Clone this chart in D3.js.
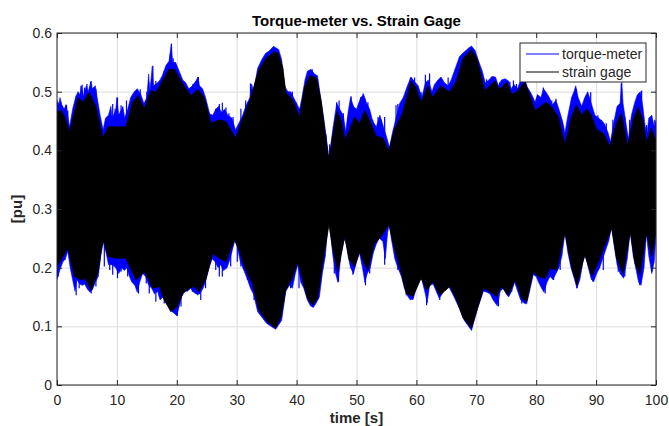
<!DOCTYPE html>
<html>
<head>
<meta charset="UTF-8">
<title>Torque-meter vs. Strain Gage</title>
<script src="https://d3js.org/d3.v7.min.js"></script>
<style>
body { margin: 0; background: #fff; }
text { font-family: "Liberation Sans", Arial, sans-serif; fill: #262626; }
</style>
</head>
<body>
<script>

const xTicks = [0, 10, 20, 30, 40, 50, 60, 70, 80, 90, 100];
const yTicks = [0, 0.1, 0.2, 0.3, 0.4, 0.5, 0.6];
const seriesNames = ["torque-meter", "strain gage"];

// envelopes of the two signals, [time s, value pu]
const torqueTop = [[0,0.485],[0.3,0.475],[0.5,0.49],[0.8,0.478],[1.2,0.47],[1.5,0.478],[2.1,0.44],[2.6,0.47],[3.1,0.49],[3.5,0.5],[3.8,0.495],[4.2,0.512],[4.4,0.492],[4.9,0.51],[5.2,0.5],[5.7,0.518],[5.9,0.505],[6.4,0.51],[6.7,0.49],[7.2,0.46],[7.7,0.435],[8.1,0.455],[8.6,0.46],[9.0,0.475],[9.2,0.455],[9.8,0.468],[10.0,0.49],[10.3,0.46],[11.0,0.475],[11.3,0.455],[11.8,0.47],[12.3,0.49],[12.9,0.5],[13.4,0.505],[14.0,0.495],[14.5,0.48],[15.0,0.49],[15.3,0.53],[15.5,0.5],[15.9,0.543],[16.1,0.51],[16.8,0.515],[17.2,0.52],[17.6,0.528],[18.2,0.545],[18.7,0.552],[19.1,0.582],[19.3,0.55],[19.8,0.55],[20.4,0.535],[21.0,0.52],[21.5,0.515],[22.0,0.505],[22.6,0.51],[23.3,0.52],[23.5,0.525],[23.8,0.51],[24.3,0.505],[24.8,0.49],[25.5,0.462],[26.0,0.46],[26.5,0.47],[27.0,0.475],[27.4,0.465],[28.0,0.47],[28.5,0.46],[29.2,0.455],[29.8,0.435],[30.3,0.445],[31.0,0.46],[31.5,0.475],[32.2,0.49],[32.5,0.513],[32.8,0.5],[33.5,0.54],[34.2,0.555],[34.8,0.565],[35.5,0.57],[36.1,0.577],[36.5,0.575],[37.0,0.572],[37.5,0.555],[38.0,0.51],[38.5,0.5],[39.0,0.5],[39.5,0.49],[40.0,0.48],[40.5,0.47],[40.9,0.49],[41.4,0.52],[41.8,0.535],[42.4,0.538],[43.0,0.53],[43.5,0.527],[44.0,0.49],[44.6,0.45],[45.1,0.41],[45.4,0.38],[45.7,0.41],[46.1,0.44],[46.7,0.48],[47.2,0.47],[47.8,0.46],[48.2,0.432],[48.6,0.465],[49.0,0.49],[49.5,0.475],[50.0,0.47],[50.7,0.49],[51.2,0.495],[51.7,0.48],[52.2,0.47],[52.7,0.45],[53.3,0.44],[53.9,0.46],[54.5,0.44],[55.1,0.42],[55.5,0.405],[56.0,0.43],[56.6,0.455],[57.2,0.48],[57.8,0.49],[58.5,0.51],[59.1,0.525],[59.6,0.518],[60.3,0.51],[60.9,0.49],[61.5,0.515],[62.0,0.52],[62.6,0.5],[63.0,0.512],[63.6,0.52],[64.1,0.525],[64.7,0.515],[65.3,0.51],[65.8,0.52],[66.5,0.54],[67.2,0.56],[67.9,0.567],[68.6,0.573],[69.2,0.578],[69.8,0.57],[70.4,0.552],[71.0,0.535],[71.5,0.515],[72.1,0.52],[72.6,0.526],[73.2,0.525],[73.7,0.51],[74.2,0.52],[74.8,0.522],[75.4,0.518],[75.8,0.505],[76.3,0.512],[76.9,0.506],[77.4,0.52],[78.0,0.525],[78.5,0.508],[79.0,0.5],[79.5,0.49],[79.8,0.482],[80.2,0.495],[80.8,0.49],[81.2,0.505],[81.6,0.5],[82.2,0.49],[82.7,0.478],[83.3,0.485],[83.8,0.47],[84.4,0.45],[84.8,0.43],[85.3,0.46],[85.9,0.49],[86.3,0.5],[86.6,0.51],[87.0,0.49],[87.6,0.475],[88.1,0.49],[88.6,0.5],[89.2,0.48],[89.8,0.46],[90.4,0.455],[91.0,0.45],[91.4,0.445],[92.0,0.43],[92.4,0.415],[92.9,0.445],[93.5,0.475],[94.0,0.48],[94.3,0.516],[94.5,0.48],[95.0,0.445],[95.4,0.42],[95.9,0.46],[96.4,0.48],[96.9,0.495],[97.4,0.5],[97.8,0.475],[98.2,0.44],[98.5,0.43],[98.8,0.455],[99.3,0.46],[99.7,0.44],[100,0.45]];

const torqueBottom = [[0,0.18],[0.3,0.19],[0.6,0.2],[1.0,0.21],[1.4,0.215],[1.8,0.228],[2.2,0.2],[2.6,0.18],[3.0,0.16],[3.3,0.18],[3.8,0.172],[4.2,0.17],[4.6,0.172],[5.0,0.165],[5.5,0.158],[5.9,0.162],[6.4,0.175],[6.9,0.185],[7.3,0.22],[7.7,0.245],[8.2,0.225],[8.6,0.205],[9.2,0.205],[9.8,0.2],[10.3,0.19],[10.8,0.2],[11.2,0.195],[11.7,0.2],[12.1,0.185],[12.5,0.175],[13.0,0.17],[13.4,0.158],[13.8,0.175],[14.3,0.19],[14.8,0.185],[15.3,0.17],[15.8,0.165],[16.3,0.155],[16.8,0.16],[17.2,0.145],[17.7,0.15],[18.2,0.14],[18.7,0.135],[19.2,0.125],[19.6,0.122],[20.0,0.118],[20.3,0.13],[20.8,0.15],[21.3,0.16],[21.8,0.16],[22.3,0.165],[22.8,0.158],[23.3,0.155],[23.8,0.155],[24.4,0.165],[24.9,0.18],[25.4,0.2],[25.9,0.215],[26.4,0.21],[26.9,0.2],[27.3,0.205],[27.8,0.195],[28.4,0.2],[28.9,0.215],[29.4,0.235],[29.8,0.25],[30.2,0.23],[30.6,0.21],[31.2,0.195],[31.8,0.18],[32.3,0.165],[32.8,0.155],[33.5,0.125],[35.0,0.105],[36.5,0.095],[37.5,0.11],[38.2,0.16],[38.8,0.17],[39.3,0.165],[39.8,0.19],[40.2,0.205],[40.7,0.175],[41.2,0.165],[41.8,0.145],[42.3,0.135],[42.8,0.132],[43.3,0.14],[43.8,0.15],[44.3,0.19],[44.8,0.22],[45.2,0.27],[45.4,0.29],[45.7,0.26],[46.0,0.225],[46.5,0.19],[46.9,0.175],[47.4,0.22],[47.9,0.245],[48.2,0.25],[48.6,0.22],[49.0,0.2],[49.5,0.19],[50.0,0.21],[50.5,0.225],[51.0,0.2],[51.4,0.175],[51.8,0.19],[52.3,0.2],[52.8,0.225],[53.3,0.24],[53.8,0.25],[54.4,0.245],[54.8,0.215],[55.2,0.26],[55.5,0.276],[55.8,0.25],[56.4,0.215],[56.9,0.2],[57.5,0.185],[58.0,0.165],[58.5,0.152],[59.0,0.145],[59.5,0.148],[60.0,0.165],[60.5,0.18],[60.9,0.18],[61.5,0.155],[61.8,0.14],[62.2,0.17],[62.8,0.172],[63.3,0.16],[63.8,0.148],[64.3,0.155],[64.8,0.165],[65.3,0.17],[65.8,0.16],[66.3,0.15],[67.2,0.13],[68.0,0.11],[69.2,0.093],[70.2,0.13],[71.2,0.16],[71.8,0.158],[72.3,0.155],[72.8,0.145],[73.5,0.135],[74.0,0.16],[74.5,0.165],[75.0,0.155],[75.4,0.15],[75.9,0.16],[76.4,0.175],[76.9,0.16],[77.4,0.145],[77.9,0.14],[78.4,0.138],[78.9,0.16],[79.5,0.188],[80.0,0.185],[80.4,0.175],[80.9,0.165],[81.3,0.158],[81.8,0.175],[82.3,0.185],[82.8,0.18],[83.3,0.19],[83.8,0.2],[84.3,0.22],[84.8,0.26],[85.3,0.225],[85.8,0.2],[86.4,0.18],[86.8,0.165],[87.3,0.18],[87.8,0.21],[88.2,0.222],[88.7,0.2],[89.2,0.18],[89.6,0.176],[90.1,0.19],[90.6,0.2],[91.1,0.215],[91.6,0.23],[92.1,0.245],[92.6,0.27],[93.0,0.24],[93.5,0.205],[94.0,0.19],[94.6,0.182],[95.2,0.215],[95.7,0.262],[96.2,0.22],[96.7,0.195],[97.1,0.175],[97.5,0.17],[98.0,0.2],[98.4,0.258],[98.8,0.22],[99.3,0.19],[99.7,0.21],[100,0.255]];

// single needle-like peaks of the torque-meter trace, [time s, value pu]
const torqueSpikesTop = [[0.3,0.482],[0.6,0.483],[1.6,0.477],[1.8,0.468],[3.2,0.493],[4.0,0.51],[4.6,0.507],[5.0,0.513],[5.6,0.517],[6.5,0.504],[7.1,0.457],[8.2,0.454],[8.8,0.463],[9.3,0.479],[9.7,0.471],[10.1,0.49],[10.7,0.477],[11.6,0.485],[12.4,0.482],[13.9,0.504],[15.0,0.5],[15.3,0.516],[16.0,0.544],[16.5,0.518],[17.1,0.516],[17.9,0.535],[18.9,0.563],[19.1,0.581],[19.4,0.557],[20.1,0.535],[22.7,0.513],[23.2,0.518],[23.6,0.525],[24.0,0.507],[25.4,0.463],[26.5,0.471],[27.1,0.479],[27.6,0.481],[28.2,0.473],[28.7,0.463],[29.4,0.457],[30.7,0.471],[31.5,0.485],[32.3,0.514],[36.2,0.577],[38.4,0.502],[39.3,0.5],[39.9,0.482],[41.1,0.49],[42.3,0.536],[42.6,0.538],[44.9,0.427],[45.5,0.41],[45.8,0.391],[46.7,0.482],[47.1,0.485],[47.8,0.463],[48.6,0.457],[49.1,0.492],[49.9,0.468],[50.7,0.49],[51.1,0.497],[51.4,0.488],[51.9,0.482],[52.7,0.452],[53.6,0.457],[54.1,0.452],[54.7,0.457],[56.6,0.477],[56.9,0.479],[58.0,0.49],[59.0,0.524],[59.7,0.524],[60.8,0.499],[61.5,0.529],[62.2,0.531],[63.0,0.499],[64.4,0.514],[65.3,0.524],[65.9,0.516],[68.7,0.575],[71.7,0.521],[72.6,0.519],[73.9,0.516],[75.6,0.517],[76.2,0.519],[76.7,0.513],[79.8,0.477],[80.6,0.49],[81.2,0.507],[81.8,0.488],[82.6,0.485],[83.3,0.488],[84.5,0.441],[86.7,0.504],[87.3,0.479],[88.1,0.468],[89.1,0.499],[90.3,0.46],[90.9,0.452],[91.7,0.446],[92.8,0.452],[93.4,0.46],[94.2,0.514],[94.8,0.457],[95.6,0.452],[96.7,0.479],[97.6,0.502],[98.4,0.443],[99.2,0.457],[99.8,0.452]];

const torqueSpikesBottom = [[0.2,0.185],[1.3,0.213],[3.2,0.153],[3.7,0.165],[4.3,0.17],[5.2,0.162],[5.7,0.156],[6.5,0.168],[7.9,0.202],[8.8,0.196],[9.3,0.188],[10.1,0.182],[10.7,0.193],[11.8,0.185],[12.6,0.176],[13.6,0.156],[14.9,0.173],[15.4,0.156],[16.5,0.142],[17.1,0.151],[17.9,0.139],[20.1,0.118],[20.7,0.134],[22.6,0.159],[23.5,0.153],[24.0,0.145],[24.8,0.165],[26.0,0.23],[26.5,0.196],[27.1,0.185],[27.6,0.185],[29.0,0.202],[29.6,0.25],[30.1,0.21],[30.7,0.202],[31.8,0.179],[32.9,0.145],[38.5,0.17],[39.0,0.165],[40.4,0.165],[43.5,0.145],[45.4,0.293],[46.3,0.19],[47.0,0.176],[48.3,0.256],[49.4,0.188],[50.5,0.23],[51.5,0.17],[52.2,0.19],[53.6,0.256],[54.7,0.205],[55.5,0.277],[56.9,0.196],[58.3,0.153],[59.4,0.145],[60.8,0.186],[61.7,0.136],[62.8,0.176],[63.9,0.145],[65.3,0.17],[73.7,0.134],[74.5,0.165],[75.9,0.159],[77.6,0.139],[79.8,0.19],[81.5,0.156],[82.9,0.179],[84.0,0.196],[84.8,0.261],[86.8,0.165],[88.1,0.222],[89.5,0.176],[91.2,0.196],[92.6,0.27],[93.7,0.193],[94.8,0.185],[95.7,0.264],[97.3,0.17],[98.4,0.259],[99.3,0.193]];

const strainTop = [[0,0.466],[0.7,0.468],[1.3,0.457],[2.1,0.432],[2.7,0.457],[3.5,0.49],[4.3,0.482],[5.4,0.499],[6.5,0.474],[7.7,0.421],[8.5,0.44],[9.9,0.44],[11.5,0.44],[12.6,0.482],[13.5,0.493],[14.6,0.471],[15.7,0.502],[16.5,0.499],[17.6,0.518],[18.7,0.538],[19.6,0.538],[20.4,0.524],[21.2,0.51],[22.4,0.493],[23.5,0.504],[24.6,0.49],[25.7,0.446],[27.1,0.452],[28.2,0.449],[29.8,0.421],[30.9,0.452],[32.2,0.485],[33.6,0.535],[34.9,0.557],[36.3,0.568],[36.9,0.566],[37.7,0.541],[38.2,0.499],[39.4,0.485],[40.5,0.457],[41.3,0.507],[42.2,0.527],[43.3,0.524],[44.1,0.485],[44.7,0.435],[45.4,0.385],[46.1,0.429],[46.7,0.466],[47.4,0.452],[48.1,0.418],[48.8,0.435],[49.7,0.457],[50.5,0.446],[51.4,0.468],[52.4,0.446],[53.3,0.424],[54.4,0.421],[55.4,0.399],[56.3,0.435],[57.7,0.463],[59.1,0.518],[59.9,0.507],[60.8,0.482],[61.9,0.51],[62.7,0.49],[64.1,0.51],[65.5,0.499],[66.7,0.518],[67.8,0.557],[69.2,0.571],[70.1,0.557],[70.9,0.524],[71.4,0.502],[72.3,0.51],[73.1,0.518],[73.9,0.504],[75.1,0.516],[75.9,0.496],[76.7,0.499],[78.1,0.516],[78.9,0.496],[79.8,0.468],[80.6,0.474],[81.7,0.482],[82.8,0.471],[83.7,0.457],[84.8,0.41],[85.9,0.457],[86.7,0.477],[87.6,0.46],[88.4,0.471],[89.2,0.46],[90.1,0.435],[91.2,0.429],[92.3,0.407],[93.4,0.446],[94.2,0.463],[95.3,0.407],[96.2,0.452],[97.0,0.474],[97.8,0.452],[98.4,0.413],[99.2,0.438],[100,0.416]];

const strainBottom = [[0,0.202],[1,0.219],[1.8,0.233],[2.9,0.185],[4.1,0.179],[4.6,0.182],[5.7,0.162],[6.8,0.19],[7.7,0.247],[8.5,0.219],[9.9,0.216],[11.5,0.216],[13.2,0.179],[14.6,0.193],[16.0,0.165],[17.1,0.168],[17.9,0.145],[19.0,0.125],[20.1,0.134],[21.0,0.156],[22.1,0.165],[22.9,0.168],[23.7,0.159],[24.8,0.179],[26.0,0.224],[27.1,0.216],[28.2,0.21],[29.6,0.247],[30.4,0.23],[31.5,0.196],[32.6,0.173],[33.7,0.128],[35.1,0.108],[36.5,0.097],[37.4,0.116],[38.2,0.162],[39.3,0.182],[40.2,0.21],[41.0,0.179],[41.8,0.148],[42.7,0.136],[43.5,0.148],[44.4,0.21],[45.4,0.273],[46.0,0.233],[46.9,0.193],[48.0,0.253],[48.8,0.213],[49.7,0.202],[50.5,0.227],[51.3,0.207],[51.9,0.196],[53.0,0.241],[54.1,0.253],[55.4,0.273],[56.4,0.23],[57.2,0.202],[58.3,0.156],[59.4,0.151],[60.8,0.182],[61.7,0.162],[62.8,0.176],[63.9,0.153],[65.6,0.168],[66.7,0.145],[67.8,0.114],[69.2,0.097],[70.3,0.134],[71.2,0.165],[72.3,0.159],[73.4,0.151],[74.2,0.168],[75.3,0.153],[76.5,0.179],[77.6,0.148],[78.4,0.142],[79.5,0.193],[80.3,0.185],[81.5,0.182],[82.3,0.199],[83.4,0.196],[84.8,0.259],[85.9,0.202],[86.8,0.17],[88.1,0.222],[89.3,0.185],[90.4,0.21],[91.5,0.239],[92.6,0.267],[93.4,0.216],[94.5,0.19],[95.7,0.261],[96.5,0.207],[97.3,0.188],[98.4,0.259],[99.3,0.219],[100,0.261]];

const svgWidth = 669;
const svgHeight = 426;
const margin = {top: 33, right: 13, bottom: 41, left: 57};
const chartWidth = svgWidth - margin.left - margin.right;
const chartHeight = svgHeight - margin.top - margin.bottom;

const svg = d3.select("body").append("svg")
  .attr("width", svgWidth)
  .attr("height", svgHeight);

const chart = svg.append("g")
  .attr("transform", "translate(" + margin.left + "," + margin.top + ")");

const xScale = d3.scaleLinear().domain([0, 100]).range([0, chartWidth]);
const yScale = d3.scaleLinear().domain([0, 0.6]).range([chartHeight, 0]);

// grid
chart.append("g")
  .attr("transform", "translate(0," + chartHeight + ")")
  .call(d3.axisBottom(xScale).tickValues(xTicks).tickSize(-chartHeight).tickFormat(""))
  .call(g => g.select(".domain").remove())
  .call(g => g.selectAll("line").attr("stroke", "#dcdcdc"));
chart.append("g")
  .call(d3.axisLeft(yScale).tickValues(yTicks).tickSize(-chartWidth).tickFormat(""))
  .call(g => g.select(".domain").remove())
  .call(g => g.selectAll("line").attr("stroke", "#dcdcdc"));

chart.append("clipPath").attr("id", "plotClip")
  .append("rect").attr("width", chartWidth).attr("height", chartHeight);

const band = d3.line()
  .x(d => xScale(d[0]))
  .y(d => yScale(d[1]))
  .curve(d3.curveLinearClosed);

const plot = chart.append("g").attr("clip-path", "url(#plotClip)");
plot.append("path")
  .attr("d", band(torqueTop.concat(torqueBottom.slice().reverse())))
  .attr("fill", "#0000ff")
  .attr("stroke", "#0000ff")
  .attr("stroke-width", 0.6);
plot.append("g").selectAll("line")
  .data(torqueSpikesTop.concat(torqueSpikesBottom))
  .join("line")
  .attr("x1", d => xScale(d[0]))
  .attr("x2", d => xScale(d[0]))
  .attr("y1", d => yScale(d[1]))
  .attr("y2", yScale(0.33))
  .attr("stroke", "#0000ff")
  .attr("stroke-width", 1.2);
plot.append("path")
  .attr("d", band(strainTop.concat(strainBottom.slice().reverse())))
  .attr("fill", "#000")
  .attr("stroke", "#000")
  .attr("stroke-width", 0.8);

// axes with inward ticks on all four sides
const tickLen = 5;
const styleAxis = g => {
  g.select(".domain").remove();
  g.selectAll("line").attr("stroke", "#262626");
  g.selectAll("text").attr("font-size", 14).attr("fill", "#262626")
    .attr("font-family", "'Liberation Sans', Arial, sans-serif");
};
chart.append("g")
  .attr("transform", "translate(0," + chartHeight + ")")
  .call(d3.axisBottom(xScale).tickValues(xTicks).tickSize(-tickLen).tickPadding(10).tickFormat(d3.format("d")))
  .call(styleAxis);
chart.append("g")
  .call(d3.axisTop(xScale).tickValues(xTicks).tickSize(-tickLen).tickFormat(""))
  .call(styleAxis);
chart.append("g")
  .call(d3.axisLeft(yScale).tickValues(yTicks).tickSize(-tickLen).tickPadding(5).tickFormat(d => d === 0 ? "0" : d3.format(".1f")(d)))
  .call(styleAxis);
chart.append("g")
  .attr("transform", "translate(" + chartWidth + ",0)")
  .call(d3.axisRight(yScale).tickValues(yTicks).tickSize(-tickLen).tickFormat(""))
  .call(styleAxis);

chart.append("rect")
  .attr("width", chartWidth)
  .attr("height", chartHeight)
  .attr("fill", "none")
  .attr("stroke", "#262626")
  .attr("stroke-width", 1);

// titles
svg.append("text")
  .attr("x", margin.left + chartWidth / 2)
  .attr("y", 25.5)
  .attr("text-anchor", "middle")
  .attr("font-size", 15)
  .attr("font-weight", "bold")
  .style("fill", "#000")
  .text("Torque-meter vs. Strain Gage");
svg.append("text")
  .attr("x", margin.left + chartWidth / 2)
  .attr("y", 423)
  .attr("text-anchor", "middle")
  .attr("font-size", 15)
  .attr("font-weight", "bold")
  .text("time [s]");
svg.append("text")
  .attr("transform", "translate(22," + (margin.top + chartHeight / 2) + ") rotate(-90)")
  .attr("text-anchor", "middle")
  .attr("font-size", 15)
  .attr("font-weight", "bold")
  .text("[pu]");

// legend
const legend = svg.append("g").attr("transform", "translate(520,43)");
legend.append("rect")
  .attr("width", 126)
  .attr("height", 39)
  .attr("fill", "#fff")
  .attr("stroke", "#262626")
  .attr("stroke-width", 1);
const legendColors = ["#0000ff", "#000"];
seriesNames.forEach((name, i) => {
  const ly = 11 + i * 18;
  legend.append("line")
    .attr("x1", 6).attr("x2", 39)
    .attr("y1", ly).attr("y2", ly)
    .attr("stroke", legendColors[i])
    .attr("stroke-width", 1);
  legend.append("text")
    .attr("x", 42)
    .attr("y", ly + 5)
    .attr("font-size", 14)
    .text(name);
});

</script>
</body>
</html>
